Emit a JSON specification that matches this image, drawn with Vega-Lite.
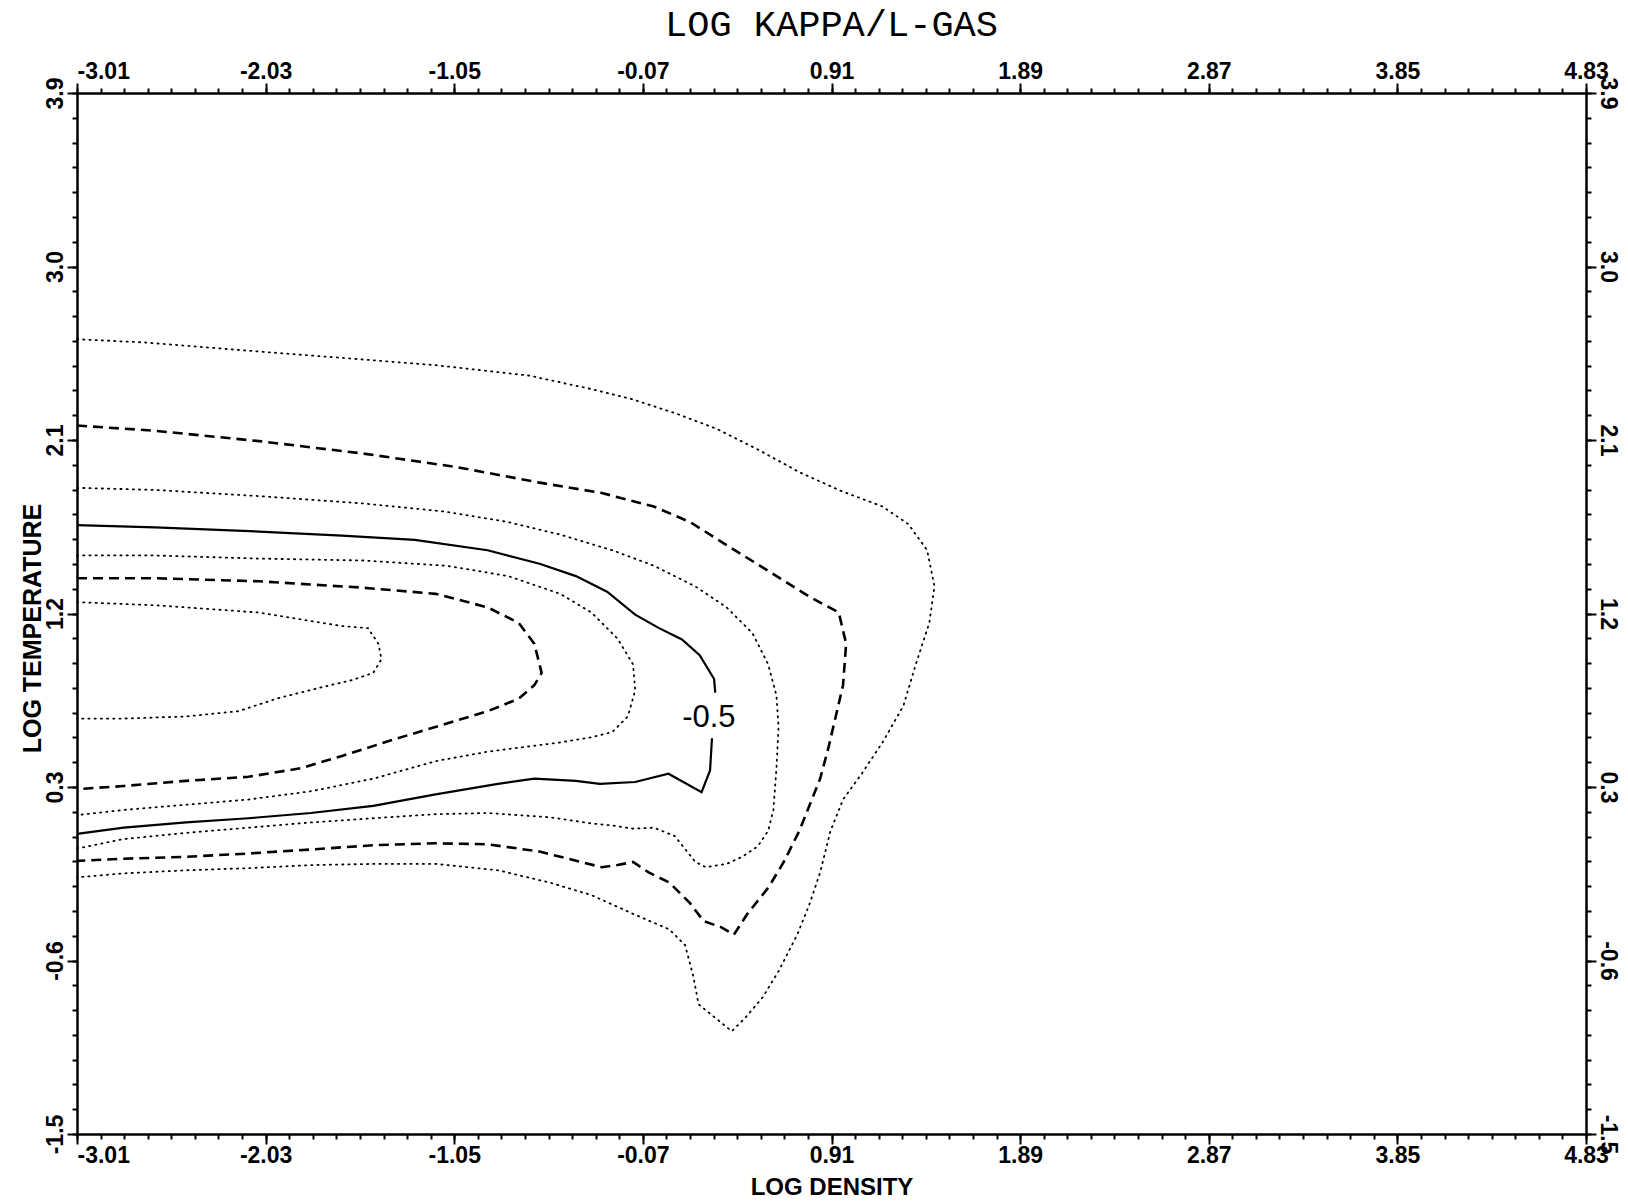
{
"$schema": "https://vega.github.io/schema/vega-lite/v6.json",
"width": 1509, "height": 1041,
"autosize": "none",
"padding": {"left": 77, "top": 93, "right": 42, "bottom": 68},
"background": "white",
"title": {"text": "LOG KAPPA/L-GAS", "font": "Liberation Mono", "fontSize": 37, "fontWeight": "normal", "color": "black", "anchor": "middle", "baseline": "alphabetic", "offset": -13, "frame": "group"},
"config": {"view": {"stroke": null}, "axis": {"grid": false, "domainColor": "black", "tickColor": "black", "labelColor": "black", "titleColor": "black", "labelOverlap": false, "labelBound": false, "domainWidth": 2.5, "tickWidth": 2}},
"data": {"values": [
{"c":"A","s":"dotted","i":0,"x":-3.01,"y":1.259},{"c":"A","s":"dotted","i":1,"x":-2.605,"y":1.243},{"c":"A","s":"dotted","i":2,"x":-2.065,"y":1.205},{"c":"A","s":"dotted","i":3,"x":-1.633,"y":1.135},{"c":"A","s":"dotted","i":4,"x":-1.498,"y":1.124},{"c":"A","s":"dotted","i":5,"x":-1.444,"y":1.043},{"c":"A","s":"dotted","i":6,"x":-1.428,"y":0.963},{"c":"A","s":"dotted","i":7,"x":-1.471,"y":0.892},{"c":"A","s":"dotted","i":8,"x":-1.579,"y":0.855},{"c":"A","s":"dotted","i":9,"x":-1.741,"y":0.817},{"c":"A","s":"dotted","i":10,"x":-1.957,"y":0.763},{"c":"A","s":"dotted","i":11,"x":-2.173,"y":0.693},{"c":"A","s":"dotted","i":12,"x":-2.443,"y":0.666},{"c":"A","s":"dotted","i":13,"x":-2.767,"y":0.655},{"c":"A","s":"dotted","i":14,"x":-3.01,"y":0.655},
{"c":"B","s":"dashed","i":0,"x":-3.01,"y":1.383},{"c":"B","s":"dashed","i":1,"x":-2.605,"y":1.383},{"c":"B","s":"dashed","i":2,"x":-2.065,"y":1.367},{"c":"B","s":"dashed","i":3,"x":-1.525,"y":1.334},{"c":"B","s":"dashed","i":4,"x":-1.147,"y":1.302},{"c":"B","s":"dashed","i":5,"x":-0.877,"y":1.232},{"c":"B","s":"dashed","i":6,"x":-0.715,"y":1.151},{"c":"B","s":"dashed","i":7,"x":-0.634,"y":1.043},{"c":"B","s":"dashed","i":8,"x":-0.596,"y":0.892},{"c":"B","s":"dashed","i":9,"x":-0.634,"y":0.828},{"c":"B","s":"dashed","i":10,"x":-0.715,"y":0.758},{"c":"B","s":"dashed","i":11,"x":-0.877,"y":0.693},{"c":"B","s":"dashed","i":12,"x":-1.093,"y":0.628},{"c":"B","s":"dashed","i":13,"x":-1.363,"y":0.547},{"c":"B","s":"dashed","i":14,"x":-1.633,"y":0.461},{"c":"B","s":"dashed","i":15,"x":-1.849,"y":0.397},{"c":"B","s":"dashed","i":16,"x":-2.119,"y":0.353},{"c":"B","s":"dashed","i":17,"x":-2.443,"y":0.332},{"c":"B","s":"dashed","i":18,"x":-2.767,"y":0.305},{"c":"B","s":"dashed","i":19,"x":-3.01,"y":0.289},
{"c":"C","s":"dotted","i":0,"x":-3.01,"y":1.501},{"c":"C","s":"dotted","i":1,"x":-2.605,"y":1.501},{"c":"C","s":"dotted","i":2,"x":-2.065,"y":1.485},{"c":"C","s":"dotted","i":3,"x":-1.525,"y":1.475},{"c":"C","s":"dotted","i":4,"x":-1.093,"y":1.448},{"c":"C","s":"dotted","i":5,"x":-0.769,"y":1.394},{"c":"C","s":"dotted","i":6,"x":-0.499,"y":1.302},{"c":"C","s":"dotted","i":7,"x":-0.337,"y":1.205},{"c":"C","s":"dotted","i":8,"x":-0.202,"y":1.07},{"c":"C","s":"dotted","i":9,"x":-0.121,"y":0.936},{"c":"C","s":"dotted","i":10,"x":-0.11,"y":0.801},{"c":"C","s":"dotted","i":11,"x":-0.148,"y":0.666},{"c":"C","s":"dotted","i":12,"x":-0.229,"y":0.585},{"c":"C","s":"dotted","i":13,"x":-0.337,"y":0.558},{"c":"C","s":"dotted","i":14,"x":-0.499,"y":0.531},{"c":"C","s":"dotted","i":15,"x":-0.715,"y":0.504},{"c":"C","s":"dotted","i":16,"x":-0.877,"y":0.483},{"c":"C","s":"dotted","i":17,"x":-1.147,"y":0.434},{"c":"C","s":"dotted","i":18,"x":-1.471,"y":0.343},{"c":"C","s":"dotted","i":19,"x":-1.795,"y":0.278},{"c":"C","s":"dotted","i":20,"x":-2.119,"y":0.235},{"c":"C","s":"dotted","i":21,"x":-2.443,"y":0.208},{"c":"C","s":"dotted","i":22,"x":-2.767,"y":0.181},{"c":"C","s":"dotted","i":23,"x":-3.01,"y":0.154},
{"c":"D1","s":"solid","i":0,"x":-3.01,"y":1.658},{"c":"D1","s":"solid","i":1,"x":-2.605,"y":1.647},{"c":"D1","s":"solid","i":2,"x":-2.065,"y":1.625},{"c":"D1","s":"solid","i":3,"x":-1.633,"y":1.604},{"c":"D1","s":"solid","i":4,"x":-1.255,"y":1.582},{"c":"D1","s":"solid","i":5,"x":-0.877,"y":1.528},{"c":"D1","s":"solid","i":6,"x":-0.607,"y":1.458},{"c":"D1","s":"solid","i":7,"x":-0.418,"y":1.394},{"c":"D1","s":"solid","i":8,"x":-0.256,"y":1.313},{"c":"D1","s":"solid","i":9,"x":-0.11,"y":1.194},{"c":"D1","s":"solid","i":10,"x":0.014,"y":1.124},{"c":"D1","s":"solid","i":11,"x":0.133,"y":1.065},{"c":"D1","s":"solid","i":12,"x":0.225,"y":0.984},{"c":"D1","s":"solid","i":13,"x":0.3,"y":0.86},{"c":"D1","s":"solid","i":14,"x":0.306,"y":0.79},
{"c":"D2","s":"solid","i":0,"x":0.289,"y":0.553},{"c":"D2","s":"solid","i":1,"x":0.279,"y":0.386},{"c":"D2","s":"solid","i":2,"x":0.235,"y":0.273},{"c":"D2","s":"solid","i":3,"x":0.063,"y":0.369},{"c":"D2","s":"solid","i":4,"x":-0.11,"y":0.326},{"c":"D2","s":"solid","i":5,"x":-0.294,"y":0.316},{"c":"D2","s":"solid","i":6,"x":-0.418,"y":0.332},{"c":"D2","s":"solid","i":7,"x":-0.634,"y":0.343},{"c":"D2","s":"solid","i":8,"x":-0.823,"y":0.316},{"c":"D2","s":"solid","i":9,"x":-1.147,"y":0.262},{"c":"D2","s":"solid","i":10,"x":-1.471,"y":0.202},{"c":"D2","s":"solid","i":11,"x":-1.795,"y":0.165},{"c":"D2","s":"solid","i":12,"x":-2.119,"y":0.138},{"c":"D2","s":"solid","i":13,"x":-2.443,"y":0.116},{"c":"D2","s":"solid","i":14,"x":-2.767,"y":0.089},{"c":"D2","s":"solid","i":15,"x":-3.01,"y":0.057},
{"c":"E","s":"dotted","i":0,"x":-3.01,"y":1.852},{"c":"E","s":"dotted","i":1,"x":-2.605,"y":1.841},{"c":"E","s":"dotted","i":2,"x":-2.065,"y":1.809},{"c":"E","s":"dotted","i":3,"x":-1.525,"y":1.771},{"c":"E","s":"dotted","i":4,"x":-1.093,"y":1.728},{"c":"E","s":"dotted","i":5,"x":-0.769,"y":1.674},{"c":"E","s":"dotted","i":6,"x":-0.499,"y":1.609},{"c":"E","s":"dotted","i":7,"x":-0.229,"y":1.528},{"c":"E","s":"dotted","i":8,"x":-0.013,"y":1.448},{"c":"E","s":"dotted","i":9,"x":0.203,"y":1.34},{"c":"E","s":"dotted","i":10,"x":0.365,"y":1.232},{"c":"E","s":"dotted","i":11,"x":0.5,"y":1.097},{"c":"E","s":"dotted","i":12,"x":0.581,"y":0.936},{"c":"E","s":"dotted","i":13,"x":0.624,"y":0.774},{"c":"E","s":"dotted","i":14,"x":0.635,"y":0.612},{"c":"E","s":"dotted","i":15,"x":0.624,"y":0.397},{"c":"E","s":"dotted","i":16,"x":0.608,"y":0.181},{"c":"E","s":"dotted","i":17,"x":0.581,"y":0.073},{"c":"E","s":"dotted","i":18,"x":0.527,"y":-0.008},{"c":"E","s":"dotted","i":19,"x":0.446,"y":-0.062},{"c":"E","s":"dotted","i":20,"x":0.365,"y":-0.099},{"c":"E","s":"dotted","i":21,"x":0.257,"y":-0.116},{"c":"E","s":"dotted","i":22,"x":0.203,"y":-0.089},{"c":"E","s":"dotted","i":23,"x":0.095,"y":0.046},{"c":"E","s":"dotted","i":24,"x":-0.013,"y":0.089},{"c":"E","s":"dotted","i":25,"x":-0.121,"y":0.084},{"c":"E","s":"dotted","i":26,"x":-0.229,"y":0.1},{"c":"E","s":"dotted","i":27,"x":-0.337,"y":0.111},{"c":"E","s":"dotted","i":28,"x":-0.553,"y":0.143},{"c":"E","s":"dotted","i":29,"x":-0.877,"y":0.165},{"c":"E","s":"dotted","i":30,"x":-1.147,"y":0.159},{"c":"E","s":"dotted","i":31,"x":-1.471,"y":0.138},{"c":"E","s":"dotted","i":32,"x":-1.795,"y":0.116},{"c":"E","s":"dotted","i":33,"x":-2.119,"y":0.089},{"c":"E","s":"dotted","i":34,"x":-2.443,"y":0.062},{"c":"E","s":"dotted","i":35,"x":-2.767,"y":0.03},{"c":"E","s":"dotted","i":36,"x":-3.01,"y":-0.019},
{"c":"F","s":"dashed","i":0,"x":-3.01,"y":2.175},{"c":"F","s":"dashed","i":1,"x":-2.605,"y":2.148},{"c":"F","s":"dashed","i":2,"x":-2.065,"y":2.094},{"c":"F","s":"dashed","i":3,"x":-1.525,"y":2.03},{"c":"F","s":"dashed","i":4,"x":-1.039,"y":1.96},{"c":"F","s":"dashed","i":5,"x":-0.607,"y":1.879},{"c":"F","s":"dashed","i":6,"x":-0.283,"y":1.825},{"c":"F","s":"dashed","i":7,"x":-0.013,"y":1.755},{"c":"F","s":"dashed","i":8,"x":0.176,"y":1.674},{"c":"F","s":"dashed","i":9,"x":0.365,"y":1.555},{"c":"F","s":"dashed","i":10,"x":0.581,"y":1.421},{"c":"F","s":"dashed","i":11,"x":0.797,"y":1.286},{"c":"F","s":"dashed","i":12,"x":0.948,"y":1.205},{"c":"F","s":"dashed","i":13,"x":0.986,"y":1.043},{"c":"F","s":"dashed","i":14,"x":0.97,"y":0.828},{"c":"F","s":"dashed","i":15,"x":0.932,"y":0.666},{"c":"F","s":"dashed","i":16,"x":0.894,"y":0.504},{"c":"F","s":"dashed","i":17,"x":0.851,"y":0.343},{"c":"F","s":"dashed","i":18,"x":0.797,"y":0.208},{"c":"F","s":"dashed","i":19,"x":0.743,"y":0.073},{"c":"F","s":"dashed","i":20,"x":0.662,"y":-0.089},{"c":"F","s":"dashed","i":21,"x":0.581,"y":-0.223},{"c":"F","s":"dashed","i":22,"x":0.473,"y":-0.358},{"c":"F","s":"dashed","i":23,"x":0.403,"y":-0.466},{"c":"F","s":"dashed","i":24,"x":0.338,"y":-0.428},{"c":"F","s":"dashed","i":25,"x":0.246,"y":-0.396},{"c":"F","s":"dashed","i":26,"x":0.176,"y":-0.304},{"c":"F","s":"dashed","i":27,"x":0.068,"y":-0.196},{"c":"F","s":"dashed","i":28,"x":-0.04,"y":-0.143},{"c":"F","s":"dashed","i":29,"x":-0.121,"y":-0.089},{"c":"F","s":"dashed","i":30,"x":-0.202,"y":-0.105},{"c":"F","s":"dashed","i":31,"x":-0.283,"y":-0.116},{"c":"F","s":"dashed","i":32,"x":-0.391,"y":-0.089},{"c":"F","s":"dashed","i":33,"x":-0.607,"y":-0.035},{"c":"F","s":"dashed","i":34,"x":-0.877,"y":0.003},{"c":"F","s":"dashed","i":35,"x":-1.147,"y":0.008},{"c":"F","s":"dashed","i":36,"x":-1.471,"y":-0.002},{"c":"F","s":"dashed","i":37,"x":-1.795,"y":-0.024},{"c":"F","s":"dashed","i":38,"x":-2.119,"y":-0.045},{"c":"F","s":"dashed","i":39,"x":-2.443,"y":-0.062},{"c":"F","s":"dashed","i":40,"x":-2.767,"y":-0.072},{"c":"F","s":"dashed","i":41,"x":-3.01,"y":-0.083},
{"c":"G","s":"dotted","i":0,"x":-3.01,"y":2.623},{"c":"G","s":"dotted","i":1,"x":-2.659,"y":2.606},{"c":"G","s":"dotted","i":2,"x":-2.119,"y":2.563},{"c":"G","s":"dotted","i":3,"x":-1.633,"y":2.526},{"c":"G","s":"dotted","i":4,"x":-1.147,"y":2.488},{"c":"G","s":"dotted","i":5,"x":-0.661,"y":2.434},{"c":"G","s":"dotted","i":6,"x":-0.337,"y":2.364},{"c":"G","s":"dotted","i":7,"x":-0.121,"y":2.31},{"c":"G","s":"dotted","i":8,"x":0.095,"y":2.24},{"c":"G","s":"dotted","i":9,"x":0.311,"y":2.159},{"c":"G","s":"dotted","i":10,"x":0.527,"y":2.051},{"c":"G","s":"dotted","i":11,"x":0.743,"y":1.933},{"c":"G","s":"dotted","i":12,"x":0.959,"y":1.836},{"c":"G","s":"dotted","i":13,"x":1.175,"y":1.755},{"c":"G","s":"dotted","i":14,"x":1.31,"y":1.663},{"c":"G","s":"dotted","i":15,"x":1.407,"y":1.528},{"c":"G","s":"dotted","i":16,"x":1.445,"y":1.34},{"c":"G","s":"dotted","i":17,"x":1.418,"y":1.151},{"c":"G","s":"dotted","i":18,"x":1.348,"y":0.936},{"c":"G","s":"dotted","i":19,"x":1.283,"y":0.72},{"c":"G","s":"dotted","i":20,"x":1.175,"y":0.531},{"c":"G","s":"dotted","i":21,"x":1.067,"y":0.369},{"c":"G","s":"dotted","i":22,"x":0.97,"y":0.235},{"c":"G","s":"dotted","i":23,"x":0.905,"y":0.073},{"c":"G","s":"dotted","i":24,"x":0.851,"y":-0.143},{"c":"G","s":"dotted","i":25,"x":0.797,"y":-0.304},{"c":"G","s":"dotted","i":26,"x":0.732,"y":-0.466},{"c":"G","s":"dotted","i":27,"x":0.635,"y":-0.655},{"c":"G","s":"dotted","i":28,"x":0.554,"y":-0.789},{"c":"G","s":"dotted","i":29,"x":0.462,"y":-0.897},{"c":"G","s":"dotted","i":30,"x":0.392,"y":-0.967},{"c":"G","s":"dotted","i":31,"x":0.219,"y":-0.827},{"c":"G","s":"dotted","i":32,"x":0.192,"y":-0.681},{"c":"G","s":"dotted","i":33,"x":0.149,"y":-0.52},{"c":"G","s":"dotted","i":34,"x":0.068,"y":-0.439},{"c":"G","s":"dotted","i":35,"x":-0.121,"y":-0.358},{"c":"G","s":"dotted","i":36,"x":-0.337,"y":-0.261},{"c":"G","s":"dotted","i":37,"x":-0.553,"y":-0.196},{"c":"G","s":"dotted","i":38,"x":-0.823,"y":-0.132},{"c":"G","s":"dotted","i":39,"x":-1.147,"y":-0.099},{"c":"G","s":"dotted","i":40,"x":-1.471,"y":-0.099},{"c":"G","s":"dotted","i":41,"x":-1.795,"y":-0.105},{"c":"G","s":"dotted","i":42,"x":-2.119,"y":-0.121},{"c":"G","s":"dotted","i":43,"x":-2.443,"y":-0.132},{"c":"G","s":"dotted","i":44,"x":-2.767,"y":-0.148},{"c":"G","s":"dotted","i":45,"x":-3.01,"y":-0.169}
]},
"layer": [
{
"transform": [{"filter": "datum.s == 'dotted'"}],
"mark": {"type": "line", "color": "black", "strokeWidth": 1.8, "strokeDash": [1.2, 5], "strokeCap": "round"},
"encoding": {
"x": {"field": "x", "type": "quantitative", "scale": {"domain": [-3.01, 4.83], "nice": false, "zero": false},
 "axis": {"orient": "bottom", "values": [-3.01,-2.03,-1.05,-0.07,0.91,1.89,2.87,3.85,4.83], "labelExpr": "replace(format(datum.value, '.2f'), '\u2212', '-')", "tickSize": 10, "labelFont": "Liberation Sans", "labelFontWeight": "bold", "labelFontSize": 23, "labelBaseline": "top", "labelPadding": 0, "labelAlign": {"condition": {"test": "datum.value < -3", "value": "left"}, "value": "center"}, "title": "LOG DENSITY", "titleFont": "Liberation Sans", "titleFontWeight": "bold", "titleFontSize": 24, "titleY": 60, "titleBaseline": "alphabetic"}},
"y": {"field": "y", "type": "quantitative", "scale": {"domain": [-1.5, 3.9], "nice": false, "zero": false},
 "axis": {"orient": "left", "values": [-1.5,-0.6,0.3,1.2,2.1,3.0,3.9], "labelExpr": "replace(format(datum.value, '.1f'), '\u2212', '-')", "tickSize": 10, "labelFont": "Liberation Sans", "labelFontWeight": "bold", "labelFontSize": 23, "labelAngle": -90, "labelAlign": "center", "labelBaseline": "alphabetic", "labelPadding": 5, "title": "LOG TEMPERATURE", "titleFont": "Liberation Sans", "titleFontWeight": "bold", "titleFontSize": 25, "titleAngle": -90, "titleX": -37, "titleY": 535, "titleBaseline": "alphabetic", "titleAlign": "center"}},
"detail": {"field": "c"},
"order": {"field": "i", "type": "quantitative"}
}
},
{
"transform": [{"filter": "datum.s == 'dashed'"}],
"mark": {"type": "line", "color": "black", "strokeWidth": 2.6, "strokeDash": [10, 6]},
"encoding": {
"x": {"field": "x", "type": "quantitative", "scale": {"domain": [-3.01, 4.83], "nice": false, "zero": false},
 "axis": {"orient": "top", "values": [-3.01,-2.03,-1.05,-0.07,0.91,1.89,2.87,3.85,4.83], "labelExpr": "replace(format(datum.value, '.2f'), '\u2212', '-')", "tickSize": 10, "labelFont": "Liberation Sans", "labelFontWeight": "bold", "labelFontSize": 23, "labelBaseline": "alphabetic", "labelPadding": 5, "labelAlign": {"condition": {"test": "datum.value < -3", "value": "left"}, "value": "center"}, "title": null}},
"y": {"field": "y", "type": "quantitative", "scale": {"domain": [-1.5, 3.9], "nice": false, "zero": false},
 "axis": {"orient": "right", "values": [-1.5,-0.6,0.3,1.2,2.1,3.0,3.9], "labelExpr": "replace(format(datum.value, '.1f'), '\u2212', '-')", "tickSize": 10, "labelFont": "Liberation Sans", "labelFontWeight": "bold", "labelFontSize": 23, "labelAngle": 90, "labelAlign": "center", "labelBaseline": "alphabetic", "labelPadding": 4, "title": null}},
"detail": {"field": "c"},
"order": {"field": "i", "type": "quantitative"}
}
},
{
"transform": [{"filter": "datum.s == 'solid'"}],
"mark": {"type": "line", "color": "black", "strokeWidth": 2.2},
"encoding": {
"x": {"field": "x", "type": "quantitative", "scale": {"domain": [-3.01, 4.83], "nice": false, "zero": false},
 "axis": {"orient": "bottom", "values": [-3.01,-2.8875,-2.765,-2.6425,-2.52,-2.3975,-2.275,-2.1525,-2.03,-1.9075,-1.785,-1.6625,-1.54,-1.4175,-1.295,-1.1725,-1.05,-0.9275,-0.805,-0.6825,-0.56,-0.4375,-0.315,-0.1925,-0.07,0.0525,0.175,0.2975,0.42,0.5425,0.665,0.7875,0.91,1.0325,1.155,1.2775,1.4,1.5225,1.645,1.7675,1.89,2.0125,2.135,2.2575,2.38,2.5025,2.625,2.7475,2.87,2.9925,3.115,3.2375,3.36,3.4825,3.605,3.7275,3.85,3.9725,4.095,4.2175,4.34,4.4625,4.585,4.7075,4.83], "labels": false, "domain": false, "tickSize": 5, "title": null}},
"y": {"field": "y", "type": "quantitative", "scale": {"domain": [-1.5, 3.9], "nice": false, "zero": false},
 "axis": {"orient": "left", "values": [-1.5,-1.3714,-1.2429,-1.1143,-0.9857,-0.8571,-0.7286,-0.6,-0.4714,-0.3429,-0.2143,-0.0857,0.0429,0.1714,0.3,0.4286,0.5571,0.6857,0.8143,0.9429,1.0714,1.2,1.3286,1.4571,1.5857,1.7143,1.8429,1.9714,2.1,2.2286,2.3571,2.4857,2.6143,2.7429,2.8714,3.0,3.1286,3.2571,3.3857,3.5143,3.6429,3.7714,3.9], "labels": false, "domain": false, "tickSize": 5, "title": null}},
"detail": {"field": "c"},
"order": {"field": "i", "type": "quantitative"}
}
},
{
"data": {"values": [{"x": 0.273, "y": 0.658, "t": "-0.5"}]},
"mark": {"type": "text", "color": "black", "font": "Liberation Sans", "fontSize": 31, "align": "center", "baseline": "middle"},
"encoding": {
"x": {"field": "x", "type": "quantitative", "scale": {"domain": [-3.01, 4.83], "nice": false, "zero": false},
 "axis": {"orient": "top", "values": [-3.01,-2.8875,-2.765,-2.6425,-2.52,-2.3975,-2.275,-2.1525,-2.03,-1.9075,-1.785,-1.6625,-1.54,-1.4175,-1.295,-1.1725,-1.05,-0.9275,-0.805,-0.6825,-0.56,-0.4375,-0.315,-0.1925,-0.07,0.0525,0.175,0.2975,0.42,0.5425,0.665,0.7875,0.91,1.0325,1.155,1.2775,1.4,1.5225,1.645,1.7675,1.89,2.0125,2.135,2.2575,2.38,2.5025,2.625,2.7475,2.87,2.9925,3.115,3.2375,3.36,3.4825,3.605,3.7275,3.85,3.9725,4.095,4.2175,4.34,4.4625,4.585,4.7075,4.83], "labels": false, "domain": false, "tickSize": 5, "title": null}},
"y": {"field": "y", "type": "quantitative", "scale": {"domain": [-1.5, 3.9], "nice": false, "zero": false},
 "axis": {"orient": "right", "values": [-1.5,-1.3714,-1.2429,-1.1143,-0.9857,-0.8571,-0.7286,-0.6,-0.4714,-0.3429,-0.2143,-0.0857,0.0429,0.1714,0.3,0.4286,0.5571,0.6857,0.8143,0.9429,1.0714,1.2,1.3286,1.4571,1.5857,1.7143,1.8429,1.9714,2.1,2.2286,2.3571,2.4857,2.6143,2.7429,2.8714,3.0,3.1286,3.2571,3.3857,3.5143,3.6429,3.7714,3.9], "labels": false, "domain": false, "tickSize": 5, "title": null}},
"text": {"field": "t"}
}
}
],
"resolve": {"axis": {"x": "independent", "y": "independent"}}
}
